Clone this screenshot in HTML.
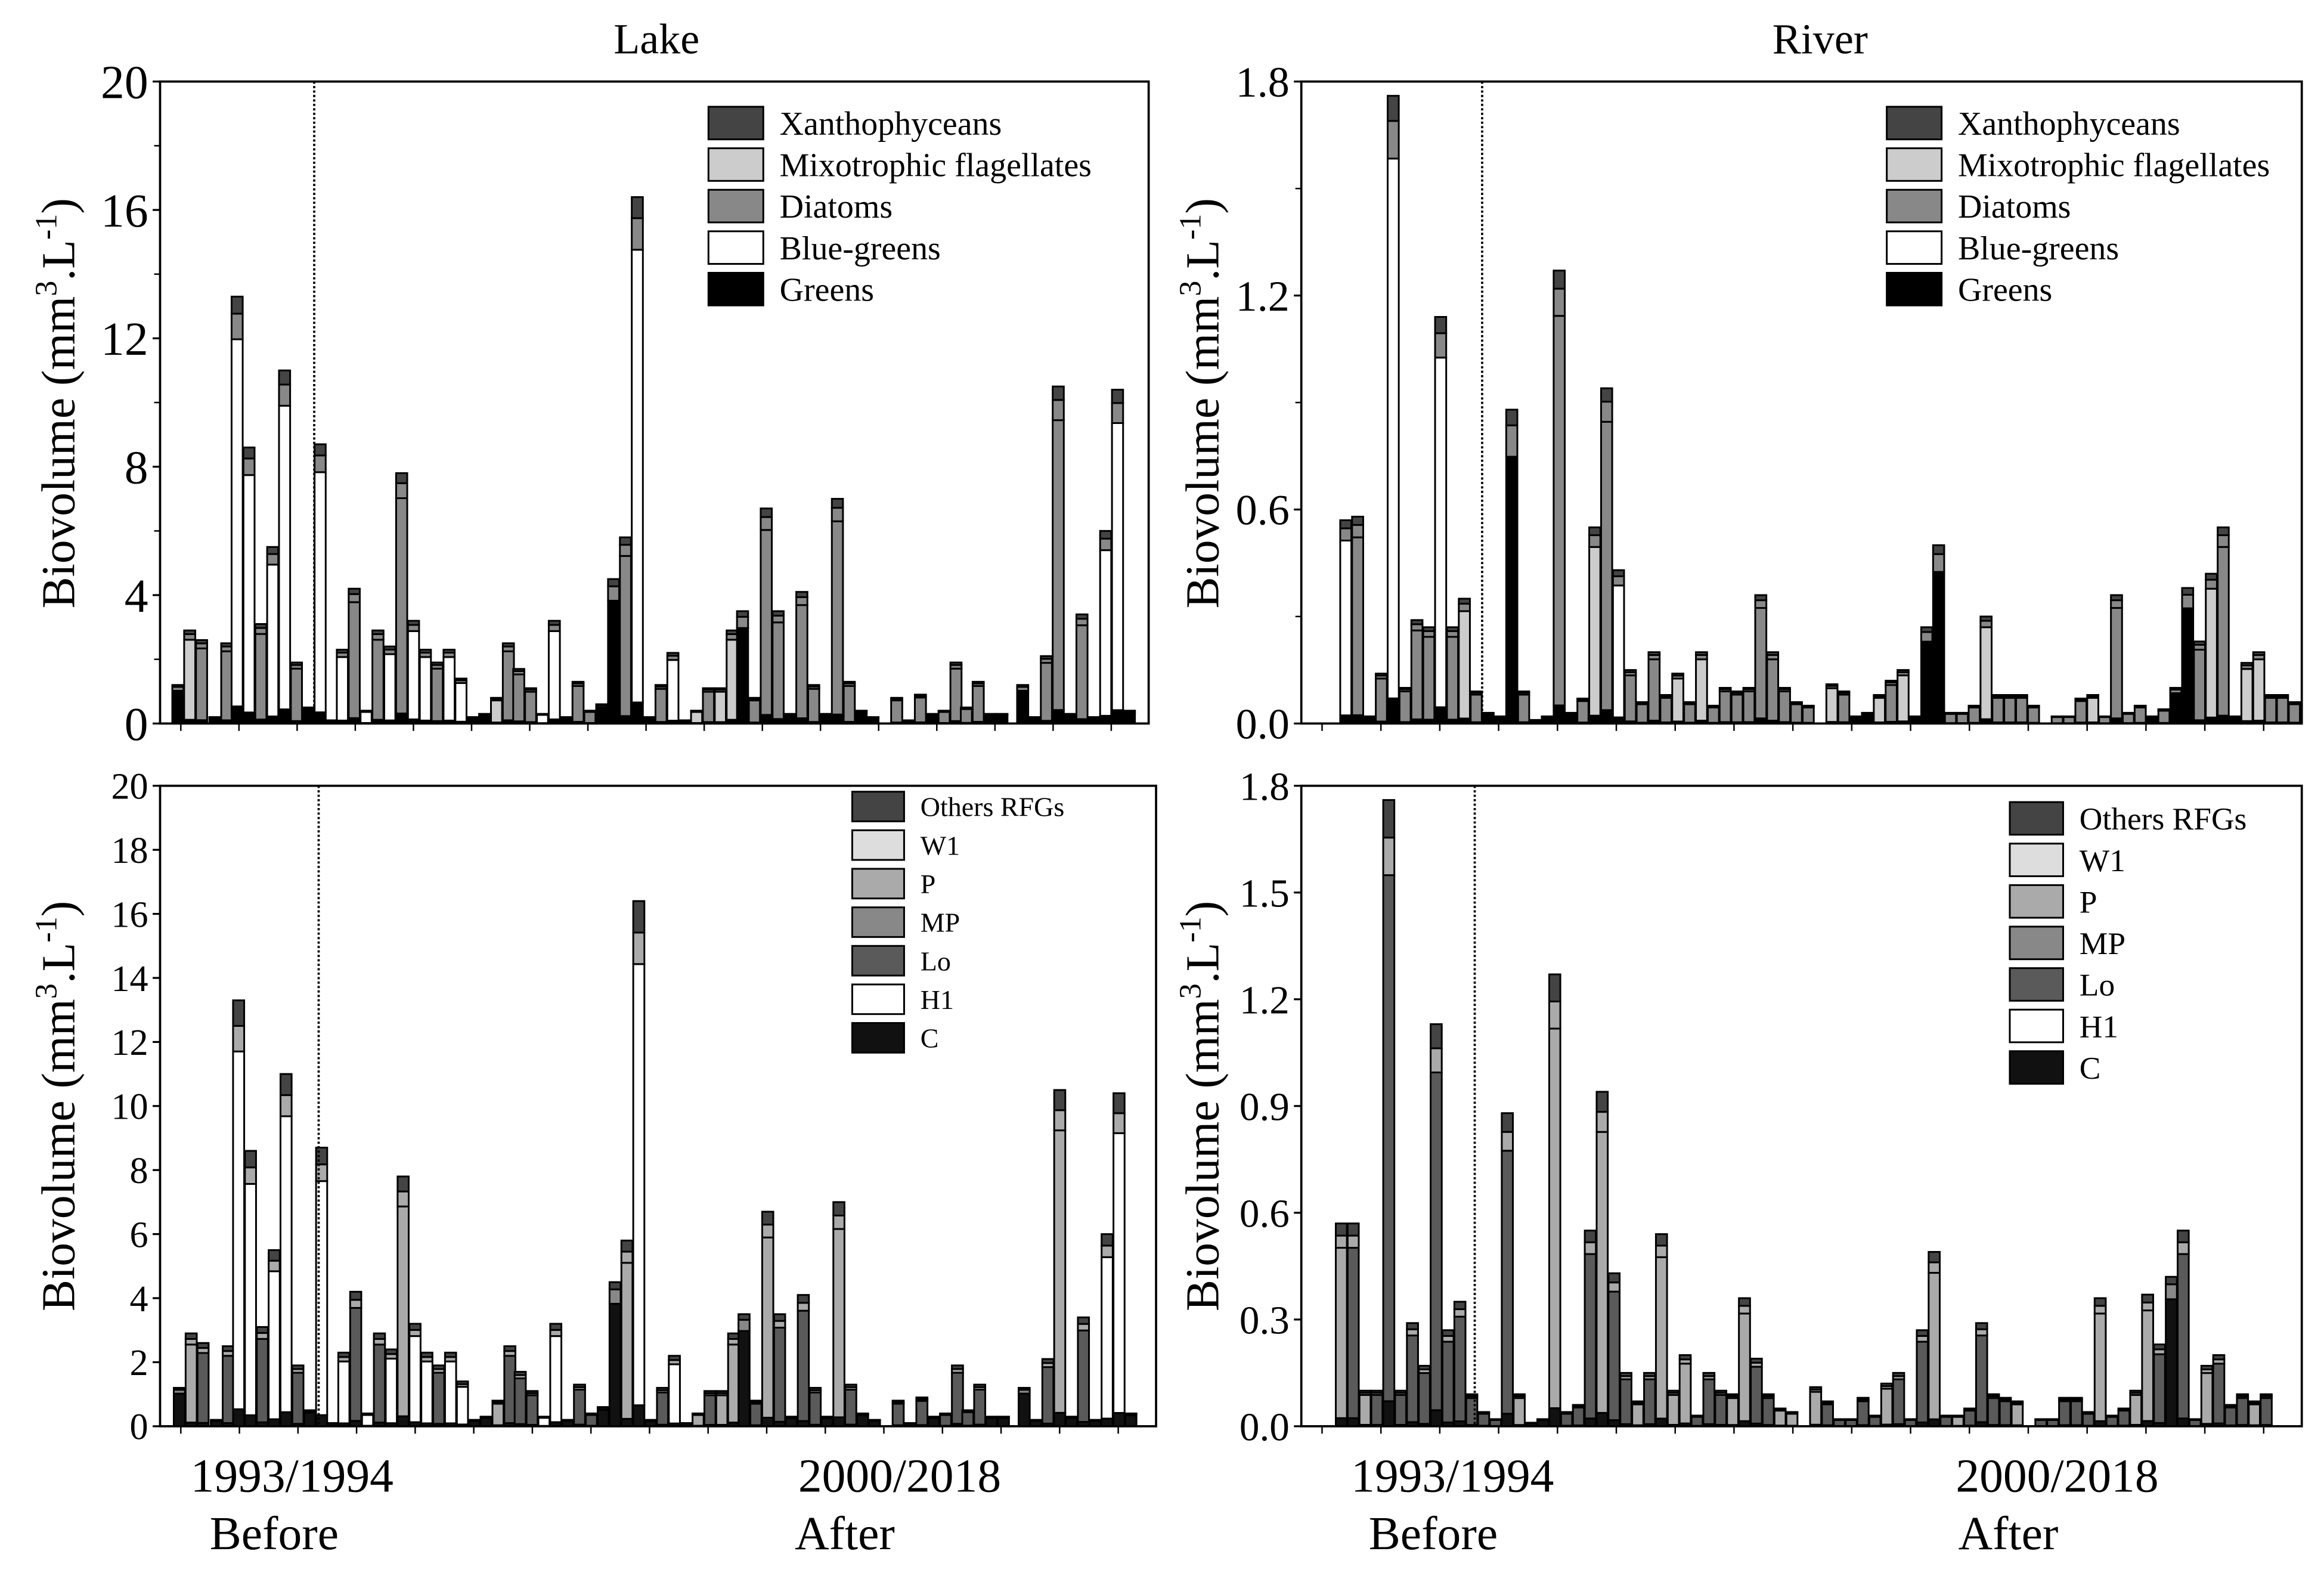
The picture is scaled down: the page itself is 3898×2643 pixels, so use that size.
<!DOCTYPE html>
<html><head><meta charset="utf-8">
<style>
html,body{margin:0;padding:0;background:#fff;}
svg{display:block;}
text{font-family:"Liberation Serif",serif;fill:#000;}
</style></head>
<body>
<svg id="s" width="3898" height="2643" viewBox="0 0 1568 1063" preserveAspectRatio="none" xmlns="http://www.w3.org/2000/svg"></svg>
<script>
const S=document.getElementById('s');let h='';
function T(x,y,t,sz,anc,extra){h+=`<text x="${x}" y="${y}" font-size="${sz}" text-anchor="${anc||'start'}" ${extra||''}>${t}</text>`;}
function panel(o){
 const {x0,x1,y0,y1,max,ticks,fmt,minor,dot,bars,comp,legend,tfs}=o;
 const sy=v=>y1-(v/max)*(y1-y0);
 bars.forEach((b,i)=>{
  const [x,tot,dom]=b;const w=7.5;let segs=comp(tot,dom,i);let y=y1;
  segs.forEach(([v,c])=>{const hh=v/max*(y1-y0);if(hh<=0)return;
   h+=`<rect x="${x-w/2}" y="${y-hh}" width="${w}" height="${hh}" fill="${c}" stroke="#000" stroke-width="1.2"/>`;y-=hh;});
 });
 h+=`<line x1="${dot}" y1="${y0}" x2="${dot}" y2="${y1}" stroke="#000" stroke-width="1.5" stroke-dasharray="1.5,1.5"/>`;
 h+=`<rect x="${x0}" y="${y0}" width="${x1-x0}" height="${y1-y0}" fill="none" stroke="#000" stroke-width="1.5"/>`;
 ticks.forEach(v=>{const y=sy(v);h+=`<line x1="${x0-5}" y1="${y}" x2="${x0}" y2="${y}" stroke="#000" stroke-width="1.3"/>`;T(x0-8,y+tfs*0.35,fmt(v),tfs,'end');});
 if(minor)minor.forEach(v=>{const y=sy(v);h+=`<line x1="${x0-4}" y1="${y}" x2="${x0}" y2="${y}" stroke="#000" stroke-width="1"/>`;});
 for(let x=x0+14;x<x1;x+=(x1-x0)/17){h+=`<line x1="${x}" y1="${y1}" x2="${x}" y2="${y1+5}" stroke="#000" stroke-width="1"/>`;}
 const L=legend;L.items.forEach((it,k)=>{const cy=L.y+k*L.dy;
  h+=`<rect x="${L.x}" y="${cy-L.bh/2}" width="${L.bw}" height="${L.bh}" fill="${it[1]}" stroke="#000" stroke-width="1.2"/>`;
  T(L.x+L.bw+11,cy+L.fs*0.35,it[0],L.fs);});
}
const X='#444',M='#ccc',D='#888',B='#fff',G='#000';
function compA(t,d){const m={x:X,m:M,d:D,b:B,g:G};
 if(d==='g')return[[t*0.85,G],[t*0.1,D],[t*0.05,X]];
 return[[t*0.04,G],[t*0.86,m[d]],[t*0.06,D],[t*0.04,X]];}
const O='#444',W='#ddd',P='#aaa',MP='#888',LO='#5a5a5a',H='#fff',C='#111';
function compB(t,d){const m={x:O,m:P,d:MP,b:H,g:C,l:LO};
 if(d==='g')return[[t*0.85,C],[t*0.1,MP],[t*0.05,O]];
 return[[t*0.04,C],[t*0.84,m[d]],[t*0.06,P],[t*0.06,O]];}
const lake=[[120,1.2,'g'],[128,2.9,'m'],[136,2.6,'d'],[145,0.2,'g'],[153,2.5,'d'],[160,13.3,'b'],[168,8.6,'b'],[176,3.1,'d'],[184,5.5,'b'],[192,11,'b'],[200,1.9,'d'],[208,0.5,'g'],[216,8.7,'b'],[224,0.1,'g'],[231,2.3,'b'],[239,4.2,'d'],[247,0.4,'b'],[255,2.9,'d'],[263,2.4,'b'],[271,7.8,'d'],[279,3.2,'b'],[287,2.3,'b'],[295,1.9,'d'],[303,2.3,'b'],[311,1.4,'b'],[319,0.2,'g'],[327,0.3,'g'],[335,0.8,'m'],[343,2.5,'d'],[350,1.7,'d'],[358,1.1,'d'],[366,0.3,'b'],[374,3.2,'b'],[382,0.2,'g'],[390,1.3,'d'],[398,0.4,'d'],[406,0.6,'g'],[414,4.5,'g'],[422,5.8,'d'],[430,16.4,'b'],[438,0.2,'g'],[446,1.2,'d'],[454,2.2,'b'],[462,0.1,'g'],[470,0.4,'m'],[478,1.1,'d'],[486,1.1,'m'],[494,2.9,'m'],[501,3.5,'g'],[509,0.8,'d'],[517,6.7,'d'],[525,3.5,'d'],[533,0.3,'g'],[541,4.1,'d'],[549,1.2,'d'],[557,0.3,'g'],[565,7.0,'d'],[573,1.3,'d'],[581,0.4,'g'],[589,0.2,'g'],[605,0.8,'d'],[613,0.1,'g'],[621,0.9,'d'],[629,0.3,'g'],[637,0.4,'d'],[645,1.9,'d'],[652,0.5,'d'],[660,1.3,'d'],[668,0.3,'g'],[676,0.3,'g'],[690,1.2,'g'],[698,0.2,'g'],[706,2.1,'d'],[714,10.5,'d'],[722,0.3,'g'],[730,3.4,'d'],[738,0.2,'g'],[746,6.0,'b'],[754,10.4,'b'],[762,0.4,'g']];
const river=[[908,0.57,'b'],[916,0.58,'d'],[924,0.02,'g'],[932,0.14,'d'],[940,1.76,'b'],[948,0.1,'d'],[956,0.29,'d'],[964,0.27,'d'],[972,1.14,'b'],[980,0.27,'d'],[988,0.35,'m'],[996,0.09,'d'],[1004,0.03,'g'],[1012,0.02,'g'],[1020,0.88,'g'],[1028,0.09,'d'],[1036,0.01,'g'],[1044,0.02,'g'],[1052,1.27,'d'],[1060,0.03,'g'],[1068,0.07,'d'],[1076,0.55,'m'],[1084,0.94,'d'],[1092,0.43,'b'],[1100,0.15,'d'],[1108,0.06,'d'],[1116,0.2,'d'],[1124,0.08,'d'],[1132,0.14,'m'],[1140,0.06,'d'],[1148,0.2,'m'],[1156,0.05,'d'],[1164,0.1,'d'],[1172,0.09,'d'],[1180,0.1,'d'],[1188,0.36,'d'],[1196,0.2,'d'],[1204,0.1,'d'],[1212,0.06,'d'],[1220,0.05,'d'],[1236,0.11,'m'],[1244,0.09,'d'],[1252,0.02,'g'],[1260,0.03,'g'],[1268,0.08,'m'],[1276,0.12,'d'],[1284,0.15,'m'],[1292,0.02,'g'],[1300,0.27,'g'],[1308,0.5,'g'],[1316,0.03,'d'],[1324,0.03,'d'],[1332,0.05,'d'],[1340,0.3,'m'],[1348,0.08,'d'],[1356,0.08,'d'],[1364,0.08,'d'],[1372,0.05,'d'],[1388,0.02,'d'],[1396,0.02,'d'],[1404,0.07,'d'],[1412,0.08,'m'],[1420,0.02,'d'],[1428,0.36,'d'],[1436,0.03,'d'],[1444,0.05,'d'],[1452,0.02,'g'],[1460,0.04,'d'],[1468,0.1,'g'],[1476,0.38,'g'],[1484,0.23,'d'],[1492,0.42,'m'],[1500,0.55,'d'],[1508,0.02,'g'],[1516,0.17,'m'],[1524,0.2,'m'],[1532,0.08,'d'],[1540,0.08,'d'],[1548,0.06,'d']];
const river2=[[905,0.57,'m'],[913,0.57,'l'],[921,0.1,'m'],[929,0.1,'l'],[937,1.76,'l'],[945,0.1,'l'],[953,0.29,'l'],[961,0.17,'l'],[969,1.13,'l'],[977,0.27,'l'],[985,0.35,'l'],[993,0.09,'l'],[1001,0.04,'l'],[1009,0.02,'l'],[1017,0.88,'l'],[1025,0.09,'m'],[1033,0.01,'g'],[1041,0.02,'g'],[1049,1.27,'m'],[1057,0.04,'l'],[1065,0.06,'l'],[1073,0.55,'l'],[1081,0.94,'m'],[1089,0.43,'l'],[1097,0.15,'l'],[1105,0.07,'m'],[1113,0.15,'l'],[1121,0.54,'m'],[1129,0.1,'m'],[1137,0.2,'m'],[1145,0.03,'l'],[1153,0.15,'l'],[1161,0.1,'l'],[1169,0.09,'m'],[1177,0.36,'m'],[1185,0.19,'l'],[1193,0.09,'l'],[1201,0.05,'m'],[1209,0.04,'m'],[1225,0.11,'m'],[1233,0.07,'l'],[1241,0.02,'l'],[1249,0.02,'l'],[1257,0.08,'l'],[1265,0.03,'l'],[1273,0.12,'m'],[1281,0.15,'l'],[1289,0.02,'l'],[1297,0.27,'l'],[1305,0.49,'m'],[1313,0.03,'l'],[1321,0.03,'m'],[1329,0.05,'l'],[1337,0.29,'l'],[1345,0.09,'l'],[1353,0.08,'l'],[1361,0.07,'m'],[1377,0.02,'l'],[1385,0.02,'l'],[1393,0.08,'l'],[1401,0.08,'l'],[1409,0.04,'l'],[1417,0.36,'m'],[1425,0.03,'l'],[1433,0.05,'l'],[1441,0.1,'m'],[1449,0.37,'m'],[1457,0.23,'l'],[1465,0.42,'g'],[1473,0.55,'l'],[1481,0.02,'l'],[1489,0.17,'m'],[1497,0.2,'l'],[1505,0.06,'l'],[1513,0.09,'l'],[1521,0.07,'m'],[1529,0.09,'l']];
const lake2=lake.map(b=>[b[0],b[1],b[2]==='d'?(b[1]>5?'m':'l'):b[2]]);
const legA={x:478,y:83,dy:28,bw:37,bh:22,fs:22.5,items:[['Xanthophyceans',X],['Mixotrophic flagellates',M],['Diatoms',D],['Blue-greens',B],['Greens',G]]};
const legB=(x,y,dy,bw,bh,fs)=>({x,y,dy,bw,bh,fs,items:[['Others RFGs',O],['W1',W],['P',P],['MP',MP],['Lo',LO],['H1',H],['C',C]]});
const f0=v=>String(v),f1=v=>v.toFixed(1);
panel({x0:108,x1:775,y0:55,y1:488,max:20,ticks:[0,4,8,12,16,20],fmt:f0,minor:[2,6,10,14,18],dot:212,bars:lake,comp:compA,legend:legA,tfs:32});
panel({x0:878,x1:1553,y0:55,y1:488,max:1.8,ticks:[0,0.6,1.2,1.8],fmt:f1,minor:[0.3,0.9,1.5],dot:1000,bars:river,comp:compA,legend:Object.assign({},legA,{x:1273}),tfs:29});
panel({x0:108,x1:780,y0:530,y1:962,max:20,ticks:[0,2,4,6,8,10,12,14,16,18,20],fmt:f0,dot:215,bars:lake2.map(b=>[b[0]+1,b[1],b[2]]),comp:compB,legend:legB(575,544,26,35,20,18.5),tfs:25});
panel({x0:878,x1:1553,y0:530,y1:962,max:1.8,ticks:[0,0.3,0.6,0.9,1.2,1.5,1.8],fmt:f1,dot:995,bars:river2,comp:compB,legend:legB(1356,552,28,36,22,21.5),tfs:27});
T(443,36,'Lake',29,'middle');T(1228,36,'River',29,'middle');
[[50,272],[50,746],[822,272],[822,746]].forEach(([x,y])=>{
 h+=`<text transform="translate(${x},${y}) rotate(-90)" font-size="32" text-anchor="middle">Biovolume (mm<tspan font-size="21" dy="-12">3</tspan><tspan dy="12">.L</tspan><tspan font-size="21" dy="-12">-1</tspan><tspan dy="12">)</tspan></text>`;});
T(197,1006,'1993/1994',32,'middle');T(607,1006,'2000/2018',32,'middle');
T(185,1045,'Before',32,'middle');T(570,1045,'After',32,'middle');
T(980,1006,'1993/1994',32,'middle');T(1388,1006,'2000/2018',32,'middle');
T(967,1045,'Before',32,'middle');T(1355,1045,'After',32,'middle');
S.innerHTML=h;
</script>
</body></html>
